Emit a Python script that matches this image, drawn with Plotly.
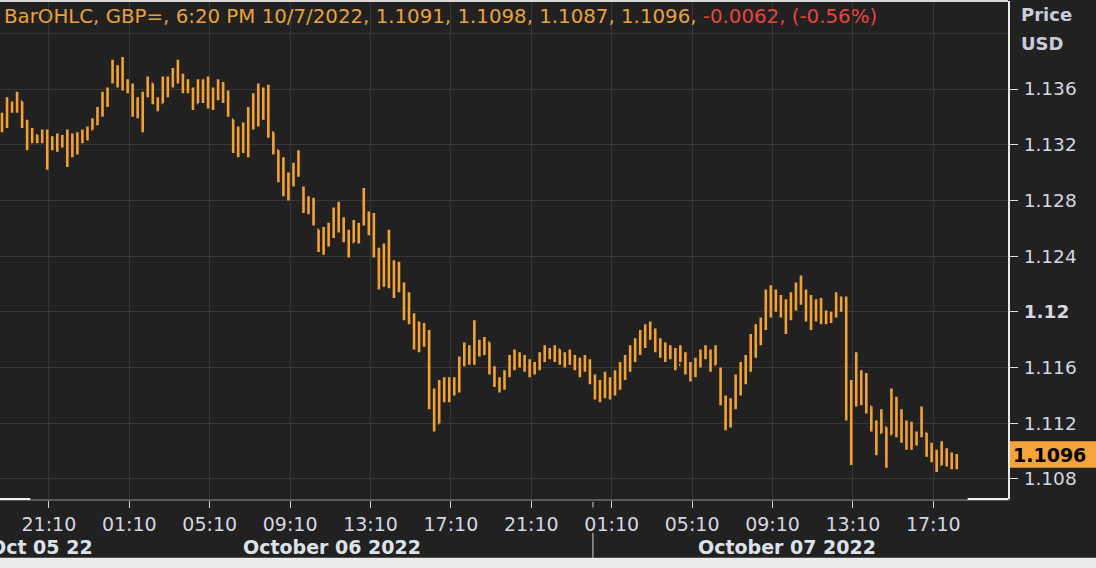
import pandas as pd
import plotly.graph_objects as go

BG_COLOR = "#212121"
GRID_COLOR = "#373737"
BAR_COLOR = "#f2a135"
TEXT_COLOR = "#d4d8e0"
RED_COLOR = "#e8453c"
FONT = "DejaVu Sans"

# 15 minute bars, GBP= from Oct 05 18:50 to Oct 07 18:20
start_time = "2022-10-05 18:50"

opens = [1.1333, 1.1340, 1.1350, 1.1346, 1.1351, 1.1336, 1.1324, 1.1327, 1.1323, 1.1326,
         1.1318, 1.1322, 1.1320, 1.1324, 1.1315, 1.1322, 1.1326, 1.1324, 1.1331, 1.1337,
         1.1345, 1.1355, 1.1366, 1.1375, 1.1365, 1.1366, 1.1360, 1.1346, 1.1350, 1.1356,
         1.1364, 1.1352, 1.1350, 1.1365, 1.1362, 1.1372, 1.1368, 1.1360, 1.1360, 1.1350,
         1.1362, 1.1355, 1.1360, 1.1353, 1.1363, 1.1356, 1.1338, 1.1320, 1.1326, 1.1330,
         1.1343, 1.1352, 1.1358, 1.1345, 1.1329, 1.1316, 1.1298, 1.1290, 1.1295, 1.1302,
         1.1288, 1.1276, 1.1280, 1.1259, 1.1248, 1.1255, 1.1260, 1.1270, 1.1262, 1.1254,
         1.1250, 1.1261, 1.1264, 1.1270, 1.1260, 1.1243, 1.1225, 1.1240, 1.1228, 1.1218,
         1.1220, 1.1200, 1.1196, 1.1178, 1.1185, 1.1180, 1.1138, 1.1120, 1.1145, 1.1140,
         1.1148, 1.1145, 1.1165, 1.1172, 1.1166, 1.1175, 1.1172, 1.1178, 1.1158, 1.1150,
         1.1146, 1.1155, 1.1165, 1.1168, 1.1164, 1.1160, 1.1157, 1.1162, 1.1169, 1.1172,
         1.1168, 1.1173, 1.1165, 1.1168, 1.1166, 1.1162, 1.1158, 1.1164, 1.1152, 1.1142,
         1.1146, 1.1150, 1.1141, 1.1154, 1.1160, 1.1166, 1.1173, 1.1178, 1.1184, 1.1188,
         1.1185, 1.1176, 1.1172, 1.1170, 1.1172, 1.1162, 1.1170, 1.1158, 1.1155, 1.1164,
         1.1170, 1.1168, 1.1162, 1.1158, 1.1137, 1.1120, 1.1132, 1.1150, 1.1158, 1.1165,
         1.1180, 1.1186, 1.1192, 1.1212, 1.1205, 1.1210, 1.1200, 1.1205, 1.1212, 1.1218,
         1.1210, 1.1198, 1.1206, 1.1197, 1.1200, 1.1194, 1.1198, 1.1210, 1.1206, 1.1128,
         1.1140, 1.1150, 1.1140, 1.1132, 1.1118, 1.1113, 1.1117, 1.1112, 1.1138, 1.1122,
         1.1112, 1.1118, 1.1108, 1.1112, 1.1113, 1.1100, 1.1095, 1.1090, 1.1100, 1.1093,
         1.1091]

highs = [1.1343, 1.1354, 1.1351, 1.1358, 1.1351, 1.1338, 1.1332, 1.1327, 1.1331, 1.1331,
         1.1326, 1.1328, 1.1327, 1.1331, 1.1328, 1.1329, 1.1331, 1.1333, 1.1339, 1.1347,
         1.1358, 1.1361, 1.1381, 1.1377, 1.1383, 1.1367, 1.1364, 1.1354, 1.1358, 1.1369,
         1.1364, 1.1354, 1.1369, 1.1369, 1.1375, 1.1381, 1.1371, 1.1367, 1.1361, 1.1367,
         1.1367, 1.1369, 1.1361, 1.1367, 1.1365, 1.1359, 1.1338, 1.1333, 1.1336, 1.1347,
         1.1357, 1.1364, 1.1361, 1.1363, 1.1329, 1.1316, 1.1311, 1.1300, 1.1307, 1.1316,
         1.1290, 1.1283, 1.1282, 1.1259, 1.1261, 1.1264, 1.1275, 1.1279, 1.1268, 1.1259,
         1.1266, 1.1264, 1.1289, 1.1272, 1.1271, 1.1246, 1.1249, 1.1259, 1.1237, 1.1236,
         1.1221, 1.1214, 1.1199, 1.1193, 1.1192, 1.1187, 1.1145, 1.1151, 1.1153, 1.1153,
         1.1153, 1.1168, 1.1178, 1.1176, 1.1194, 1.1180, 1.1182, 1.1178, 1.1161, 1.1153,
         1.1158, 1.1169, 1.1173, 1.1171, 1.1169, 1.1166, 1.1164, 1.1171, 1.1176, 1.1174,
         1.1176, 1.1173, 1.1171, 1.1173, 1.1169, 1.1167, 1.1169, 1.1166, 1.1155, 1.1151,
         1.1157, 1.1153, 1.1158, 1.1164, 1.1169, 1.1176, 1.1181, 1.1187, 1.1191, 1.1193,
         1.1188, 1.1181, 1.1178, 1.1176, 1.1174, 1.1176, 1.1171, 1.1164, 1.1167, 1.1173,
         1.1176, 1.1173, 1.1176, 1.1160, 1.1140, 1.1138, 1.1155, 1.1164, 1.1169, 1.1184,
         1.1191, 1.1196, 1.1216, 1.1219, 1.1216, 1.1212, 1.1209, 1.1214, 1.1221, 1.1226,
         1.1216, 1.1212, 1.1209, 1.1210, 1.1201, 1.1200, 1.1214, 1.1211, 1.1211, 1.1151,
         1.1171, 1.1158, 1.1156, 1.1132, 1.1122, 1.1130, 1.1117, 1.1145, 1.1139, 1.1130,
         1.1122, 1.1121, 1.1114, 1.1132, 1.1113, 1.1106, 1.1101, 1.1107, 1.1102, 1.1099,
         1.1098]

lows = [1.1329, 1.1332, 1.1343, 1.1343, 1.1332, 1.1316, 1.1321, 1.1321, 1.1321, 1.1302,
        1.1316, 1.1315, 1.1318, 1.1304, 1.1311, 1.1313, 1.1321, 1.1323, 1.1331, 1.1334,
        1.1340, 1.1347, 1.1364, 1.1361, 1.1359, 1.1357, 1.1340, 1.1339, 1.1329, 1.1354,
        1.1349, 1.1344, 1.1350, 1.1354, 1.1361, 1.1364, 1.1357, 1.1357, 1.1345, 1.1350,
        1.1350, 1.1346, 1.1345, 1.1352, 1.1350, 1.1340, 1.1314, 1.1311, 1.1314, 1.1311,
        1.1331, 1.1333, 1.1338, 1.1325, 1.1313, 1.1293, 1.1283, 1.1280, 1.1290, 1.1297,
        1.1271, 1.1270, 1.1262, 1.1243, 1.1241, 1.1247, 1.1253, 1.1257, 1.1250, 1.1239,
        1.1250, 1.1249, 1.1262, 1.1255, 1.1239, 1.1216, 1.1218, 1.1217, 1.1210, 1.1214,
        1.1194, 1.1191, 1.1173, 1.1171, 1.1175, 1.1130, 1.1114, 1.1120, 1.1135, 1.1135,
        1.1140, 1.1142, 1.1161, 1.1162, 1.1162, 1.1168, 1.1169, 1.1155, 1.1146, 1.1142,
        1.1144, 1.1153, 1.1158, 1.1160, 1.1157, 1.1153, 1.1155, 1.1158, 1.1164, 1.1166,
        1.1164, 1.1162, 1.1160, 1.1162, 1.1158, 1.1153, 1.1157, 1.1148, 1.1137, 1.1135,
        1.1138, 1.1137, 1.1140, 1.1144, 1.1151, 1.1157, 1.1164, 1.1169, 1.1174, 1.1180,
        1.1171, 1.1167, 1.1164, 1.1166, 1.1158, 1.1164, 1.1155, 1.1150, 1.1153, 1.1160,
        1.1166, 1.1157, 1.1162, 1.1133, 1.1115, 1.1117, 1.1130, 1.1140, 1.1148, 1.1157,
        1.1167, 1.1176, 1.1187, 1.1196, 1.1200, 1.1196, 1.1184, 1.1194, 1.1201, 1.1205,
        1.1193, 1.1187, 1.1193, 1.1191, 1.1191, 1.1192, 1.1196, 1.1200, 1.1122, 1.1090,
        1.1132, 1.1133, 1.1127, 1.1114, 1.1097, 1.1113, 1.1088, 1.1112, 1.1110, 1.1106,
        1.1101, 1.1101, 1.1104, 1.1110, 1.1096, 1.1092, 1.1085, 1.1090, 1.1089, 1.1087,
        1.1087]

closes = [1.1340, 1.1350, 1.1346, 1.1352, 1.1336, 1.1324, 1.1328, 1.1323, 1.1326, 1.1318,
          1.1322, 1.1320, 1.1324, 1.1315, 1.1322, 1.1326, 1.1324, 1.1331, 1.1337, 1.1345,
          1.1355, 1.1359, 1.1375, 1.1365, 1.1372, 1.1360, 1.1346, 1.1350, 1.1352, 1.1366,
          1.1352, 1.1347, 1.1365, 1.1358, 1.1372, 1.1368, 1.1360, 1.1363, 1.1349, 1.1362,
          1.1355, 1.1364, 1.1350, 1.1363, 1.1356, 1.1342, 1.1320, 1.1326, 1.1330, 1.1343,
          1.1352, 1.1358, 1.1345, 1.1330, 1.1316, 1.1298, 1.1290, 1.1295, 1.1302, 1.1300,
          1.1276, 1.1280, 1.1265, 1.1248, 1.1255, 1.1260, 1.1270, 1.1262, 1.1254, 1.1250,
          1.1261, 1.1256, 1.1280, 1.1260, 1.1243, 1.1225, 1.1240, 1.1228, 1.1218, 1.1225,
          1.1200, 1.1196, 1.1178, 1.1185, 1.1180, 1.1138, 1.1120, 1.1145, 1.1140, 1.1148,
          1.1145, 1.1165, 1.1172, 1.1166, 1.1175, 1.1172, 1.1178, 1.1158, 1.1150, 1.1146,
          1.1155, 1.1165, 1.1168, 1.1164, 1.1160, 1.1157, 1.1162, 1.1169, 1.1172, 1.1168,
          1.1173, 1.1165, 1.1168, 1.1166, 1.1162, 1.1158, 1.1164, 1.1152, 1.1142, 1.1146,
          1.1150, 1.1141, 1.1154, 1.1160, 1.1166, 1.1173, 1.1178, 1.1184, 1.1188, 1.1185,
          1.1176, 1.1172, 1.1170, 1.1172, 1.1162, 1.1170, 1.1158, 1.1155, 1.1164, 1.1170,
          1.1168, 1.1162, 1.1170, 1.1137, 1.1120, 1.1132, 1.1150, 1.1158, 1.1165, 1.1180,
          1.1186, 1.1192, 1.1212, 1.1205, 1.1210, 1.1200, 1.1205, 1.1212, 1.1218, 1.1210,
          1.1198, 1.1206, 1.1197, 1.1205, 1.1194, 1.1198, 1.1210, 1.1206, 1.1128, 1.1140,
          1.1150, 1.1140, 1.1135, 1.1118, 1.1105, 1.1125, 1.1095, 1.1138, 1.1122, 1.1112,
          1.1118, 1.1108, 1.1112, 1.1125, 1.1100, 1.1095, 1.1090, 1.1100, 1.1093, 1.1091,
          1.1096]

tick_times = ["2022-10-05 21:10", "2022-10-06 01:10", "2022-10-06 05:10", "2022-10-06 09:10",
              "2022-10-06 13:10", "2022-10-06 17:10", "2022-10-06 21:10", "2022-10-07 01:10",
              "2022-10-07 05:10", "2022-10-07 09:10", "2022-10-07 13:10", "2022-10-07 17:10"]
tick_labels = ["21:10", "01:10", "05:10", "09:10", "13:10", "17:10",
               "21:10", "01:10", "05:10", "09:10", "13:10", "17:10"]

price_ticks = [1.108, 1.112, 1.116, 1.12, 1.124, 1.128, 1.132, 1.136]
price_labels = ["1.108", "1.112", "1.116", "<b>1.12</b>", "1.124", "1.128", "1.132", "1.136"]

date_labels = ["Oct 05 22", "October 06 2022", "October 07 2022"]
header_text = "BarOHLC, GBP=, 6:20 PM 10/7/2022, 1.1091, 1.1098, 1.1087, 1.1096, "
change_text = "-0.0062, (-0.56%)"
last_price = 1.1096

times = pd.date_range(start_time, periods=len(closes), freq="15min")

fig = go.Figure()
fig.add_trace(go.Ohlc(x=times, open=opens, high=highs, low=lows, close=closes,
                      increasing=dict(line=dict(color=BAR_COLOR, width=2.6)),
                      decreasing=dict(line=dict(color=BAR_COLOR, width=2.6)),
                      tickwidth=0.25, hoverinfo="skip"))

# plot frame bits
fig.add_shape(type="line", xref="paper", yref="y", x0=0, x1=1, y0=1.140, y1=1.140,
              line=dict(color=GRID_COLOR, width=1), layer="below")
fig.add_shape(type="line", xref="paper", yref="paper", x0=0, x1=1, y0=1, y1=1,
              line=dict(color="#d8d8d8", width=2))
fig.add_shape(type="line", xref="paper", yref="paper", x0=0, x1=0.03, y0=0, y1=0,
              line=dict(color="#f0f0f0", width=2))
fig.add_shape(type="line", xref="paper", yref="paper", x0=0.96, x1=1, y0=0, y1=0,
              line=dict(color="#f0f0f0", width=2))
# day separator below the time axis
fig.add_shape(type="line", xref="x", yref="paper", x0="2022-10-07 00:14", x1="2022-10-07 00:14",
              y0=-0.006, y1=-0.017, line=dict(color="#d0d0d0", width=1))
fig.add_shape(type="line", xref="x", yref="paper", x0="2022-10-07 00:14", x1="2022-10-07 00:14",
              y0=-0.068, y1=-0.119, line=dict(color="#d0d0d0", width=1))
# light strip at the bottom edge
fig.add_shape(type="rect", xref="paper", yref="paper", x0=-0.01, x1=1.1, y0=-0.118, y1=-0.16,
              fillcolor="#ebebeb", line=dict(width=0))
# last price marker
fig.add_shape(type="rect", xref="paper", yref="y", x0=1.002, x1=1.09, y0=1.1088, y1=1.1107,
              fillcolor="#f5a33a", line=dict(width=0))

fig.add_annotation(x=1.003, y=last_price + 0.0001, xref="paper", yref="y", xanchor="left",
                   text=f"<b>{last_price:.4f}</b>", showarrow=False,
                   font=dict(family=FONT, size=19, color="#000000"))
fig.add_annotation(x=0.002, y=0.968, xref="paper", yref="paper", xanchor="left", yanchor="middle",
                   text=header_text + f"<span style='color:{RED_COLOR}'>{change_text}</span>",
                   showarrow=False, font=dict(family=FONT, size=19.8, color="#e9a23b"))
fig.add_annotation(x=1.011, y=0.972, xref="paper", yref="paper", xanchor="left", yanchor="middle",
                   text="<b>Price</b>", showarrow=False, font=dict(family=FONT, size=18, color="#c8cdd8"))
fig.add_annotation(x=1.011, y=0.914, xref="paper", yref="paper", xanchor="left", yanchor="middle",
                   text="<b>USD</b>", showarrow=False, font=dict(family=FONT, size=18, color="#c8cdd8"))
for label, xpos, anchor in zip(date_labels, [0.094, 0.329, 0.781], ["right", "center", "center"]):
    fig.add_annotation(x=xpos, y=-0.096, xref="paper", yref="paper", xanchor=anchor, yanchor="middle",
                       text=f"<b>{label}</b>", showarrow=False,
                       font=dict(family=FONT, size=19, color="#dde2ea"))

fig.update_xaxes(type="date", range=["2022-10-05 18:44", "2022-10-07 20:53"],
                 tickmode="array", tickvals=tick_times, ticktext=tick_labels,
                 ticks="outside", ticklen=7, tickcolor="#d0d0d0", tickwidth=1,
                 showgrid=True, gridcolor=GRID_COLOR, gridwidth=1,
                 showline=True, linecolor="#5a5a5a", linewidth=2, zeroline=False,
                 rangeslider=dict(visible=False), tickfont=dict(family=FONT, size=19, color=TEXT_COLOR))
fig.update_yaxes(side="right", range=[1.10656, 1.14232],
                 tickmode="array", tickvals=price_ticks, ticktext=price_labels,
                 ticks="outside", ticklen=8, tickcolor="#e0e0e0", tickwidth=1,
                 showgrid=True, gridcolor=GRID_COLOR, gridwidth=1,
                 showline=True, linecolor="#e8e8e8", linewidth=2, zeroline=False,
                 ticklabelstandoff=2, tickfont=dict(family=FONT, size=18.5, color=TEXT_COLOR))

fig.update_layout(width=1096, height=568,
                  margin=dict(l=0, r=88, t=1, b=69),
                  paper_bgcolor=BG_COLOR, plot_bgcolor=BG_COLOR,
                  showlegend=False, hovermode=False,
                  font=dict(family=FONT, size=18, color=TEXT_COLOR))

fig.write_html("out.html", config={"displayModeBar": False},
               post_script="document.body.style.margin='0';")
